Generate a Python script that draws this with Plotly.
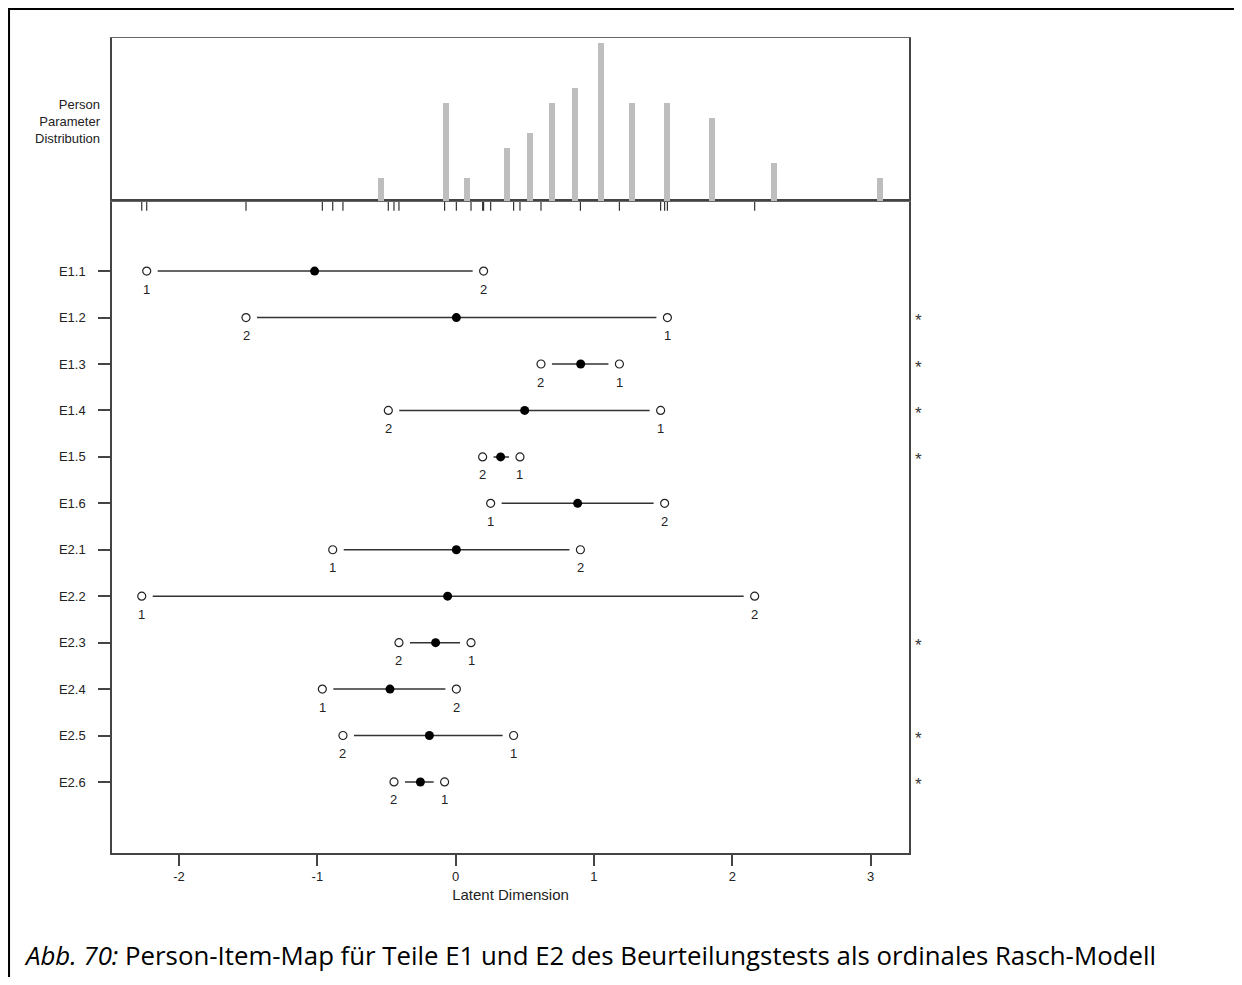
import plotly.graph_objects as go

# ---------------- data ----------------
items = ["E1.1", "E1.2", "E1.3", "E1.4", "E1.5", "E1.6",
         "E2.1", "E2.2", "E2.3", "E2.4", "E2.5", "E2.6"]
threshold1 = [-2.234, 1.531, 1.184, 1.482, 0.465, 0.253,
              -0.889, -2.270, 0.111, -0.964, 0.419, -0.080]
threshold2 = [0.202, -1.516, 0.617, -0.487, 0.195, 1.511,
              0.902, 2.162, -0.410, 0.005, -0.815, -0.446]
location = [-1.020, 0.005, 0.904, 0.499, 0.325, 0.882,
            0.005, -0.058, -0.145, -0.475, -0.190, -0.255]

person_theta = [-0.537, -0.067, 0.082, 0.374, 0.535, 0.694, 0.866,
                1.051, 1.278, 1.531, 1.851, 2.304, 3.066]
person_freq = [3, 13, 3, 7, 9, 13, 15, 21, 13, 13, 11, 5, 3]

x_ticks = [-2, -1, 0, 1, 2, 3]
x_ticktext = ["-2", "-1", "0", "1", "2", "3"]
threshold_labels = ["1", "2"]

# ---------------- styling constants ----------------
INK = "#222222"
AXIS = "#444444"
FONT = "Liberation Sans, Arial, sans-serif"
rows = list(range(1, len(items) + 1))
Y_TOP, Y_BOT = -0.51, 13.53
RUG_LEN = 0.21

fig = go.Figure()

# person parameter distribution (top panel)
fig.add_trace(go.Bar(x=person_theta, y=person_freq, width=0.043,
                     marker=dict(color="#bebebe", line=dict(width=0)),
                     xaxis="x2", yaxis="y2", hoverinfo="x+y"))

# threshold segments
seg_x, seg_y = [], []
for r, a, b in zip(rows, threshold1, threshold2):
    seg_x += [min(a, b), max(a, b), None]
    seg_y += [r, r, None]
fig.add_trace(go.Scatter(x=seg_x, y=seg_y, mode="lines",
                         line=dict(color="#333333", width=1.5),
                         hoverinfo="skip"))

# white masks create the gap around the open circles (as in R type="b")
all_t = threshold1 + threshold2
all_r = rows + rows
fig.add_trace(go.Scatter(x=all_t, y=all_r, mode="markers",
                         marker=dict(color="white", size=22, line=dict(width=0)),
                         hoverinfo="skip"))
# open threshold circles
fig.add_trace(go.Scatter(x=all_t, y=all_r, mode="markers",
                         marker=dict(color="white", size=8,
                                     line=dict(color=INK, width=1.2))))
# item locations
fig.add_trace(go.Scatter(x=location, y=rows, mode="markers",
                         marker=dict(color="black", size=9, line=dict(width=0))))

# rug of thresholds below top panel
rug_x, rug_y = [], []
for t in all_t:
    rug_x += [t, t, None]
    rug_y += [Y_TOP, Y_TOP + RUG_LEN, None]
fig.add_trace(go.Scatter(x=rug_x, y=rug_y, mode="lines",
                         line=dict(color="#333333", width=1.2), hoverinfo="skip"))

annotations = []
for r, a, b in zip(rows, threshold1, threshold2):
    for t, lab in zip((a, b), threshold_labels):
        annotations.append(dict(x=t, y=r, xref="x", yref="y", text=lab,
                                showarrow=False, yshift=-18,
                                font=dict(family=FONT, size=13, color=INK)))
    if a > b:
        annotations.append(dict(x=1.019, y=r, xref="paper", yref="y", text="*",
                                showarrow=False, yshift=-3,
                                font=dict(family=FONT, size=17, color="#333333")))

annotations.append(dict(x=-0.0115, y=0.898, xref="paper", yref="paper",
                        xanchor="right", yanchor="middle", align="right",
                        text="Person<br>Parameter<br>Distribution", showarrow=False,
                        font=dict(family=FONT, size=13, color=INK)))
annotations.append(dict(x=-0.1135, y=-0.125, xref="paper", yref="paper",
                        xanchor="left", yanchor="middle", align="left",
                        text="<i>Abb. 70:</i> Person-Item-Map für Teile E1 und E2 des "
                             "Beurteilungstests als ordinales Rasch-Modell",
                        showarrow=False,
                        font=dict(family="Open Sans, Noto Sans, sans-serif", size=25.8,
                                  color="black")))

shapes = [
    dict(type="line", xref="paper", yref="paper", x0=-0.1305, x1=1.41,
         y0=1.0356, y1=1.0356, line=dict(color="black", width=2)),
    dict(type="line", xref="paper", yref="paper", x0=-0.1292, x1=-0.1292,
         y0=1.0356, y1=-0.16, line=dict(color="black", width=2)),
]

axis_common = dict(showline=True, mirror=True, linecolor=AXIS, linewidth=1.5,
                   showgrid=False, zeroline=False)

fig.update_layout(
    width=1226, height=969,
    margin=dict(l=104, r=325, t=30, b=124),
    paper_bgcolor="white", plot_bgcolor="white",
    showlegend=False, bargap=0,
    font=dict(family=FONT, size=12, color=INK),
    xaxis=dict(domain=[0, 1], range=[-2.485, 3.278], anchor="y",
               tickvals=x_ticks, ticktext=x_ticktext, ticks="outside", ticklen=11,
               tickcolor=AXIS, tickwidth=1.5, tickfont=dict(size=13),
               title=dict(text="Latent Dimension", font=dict(size=15), standoff=6),
               **axis_common),
    yaxis=dict(domain=[0, 0.8], range=[Y_BOT, Y_TOP], anchor="x",
               tickvals=rows, ticktext=items, ticks="outside", ticklen=12,
               tickcolor=AXIS, tickwidth=1.5, tickfont=dict(size=13),
               ticklabelstandoff=10, **axis_common),
    xaxis2=dict(domain=[0, 1], anchor="y2", matches="x", showticklabels=False,
                ticks="", showline=True, mirror=True, linecolor="#666666",
                linewidth=1.2, showgrid=False, zeroline=False),
    yaxis2=dict(domain=[0.8, 1], range=[0, 21.7], anchor="x2",
                showticklabels=False, ticks="", **axis_common),
    annotations=annotations,
    shapes=shapes,
)

fig.write_html("out.html")
